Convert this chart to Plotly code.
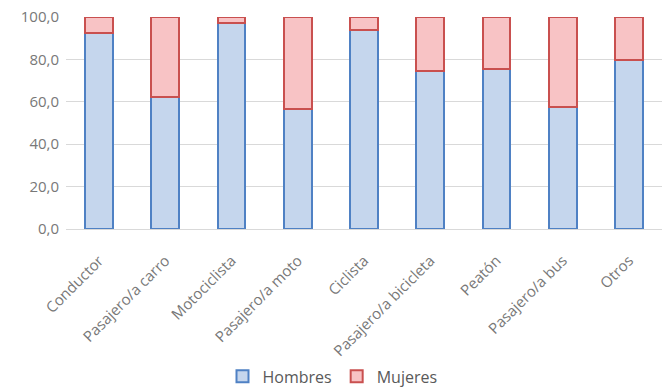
import plotly.graph_objects as go

categorias = ["Conductor", "Pasajero/a carro", "Motociclista", "Pasajero/a moto",
              "Ciclista", "Pasajero/a bicicleta", "Peatón", "Pasajero/a bus", "Otros"]
hombres = [92.5, 62.1, 97.0, 56.6, 94.0, 74.7, 75.5, 57.7, 79.9]
mujeres = [round(100 - h, 1) for h in hombres]
y_ticks = [0, 20, 40, 60, 80, 100]

fig = go.Figure()
fig.add_trace(go.Bar(x=categorias, y=hombres, name="Hombres",
                     marker=dict(color="#c5d6ed", line=dict(color="#4f81c4", width=2))))
fig.add_trace(go.Bar(x=categorias, y=mujeres, name="Mujeres",
                     marker=dict(color="#f8c3c5", line=dict(color="#c9504f", width=2))))

font_fam = "Open Sans, Liberation Sans, sans-serif"
tick_col = "#787878"
fig.update_layout(
    barmode="stack",
    bargap=0.58,
    width=665, height=388,
    margin=dict(l=66, r=3, t=17, b=159, autoexpand=False),
    paper_bgcolor="white", plot_bgcolor="white",
    separators=",.",
    font=dict(family=font_fam, color="#595959", size=14),
    legend=dict(orientation="h", xref="container", x=0.5, xanchor="center",
                yref="container", y=0.03, yanchor="middle",
                font=dict(size=16, color="#595959"),
                itemwidth=30, traceorder="normal"),
    xaxis=dict(tickangle=-45, showgrid=False, showline=True, linecolor="#d9d9d9",
               linewidth=1, ticks="", tickfont=dict(size=15, color=tick_col),
               ticklabelstandoff=16, automargin=False),
    yaxis=dict(range=[0, 100], tickvals=y_ticks, tickformat=".1f", showgrid=True,
               gridcolor="#d9d9d9", gridwidth=1, zeroline=False, ticks="",
               tickfont=dict(size=15, color=tick_col), ticklabelstandoff=6,
               automargin=False),
)
fig.write_html("out.html")
